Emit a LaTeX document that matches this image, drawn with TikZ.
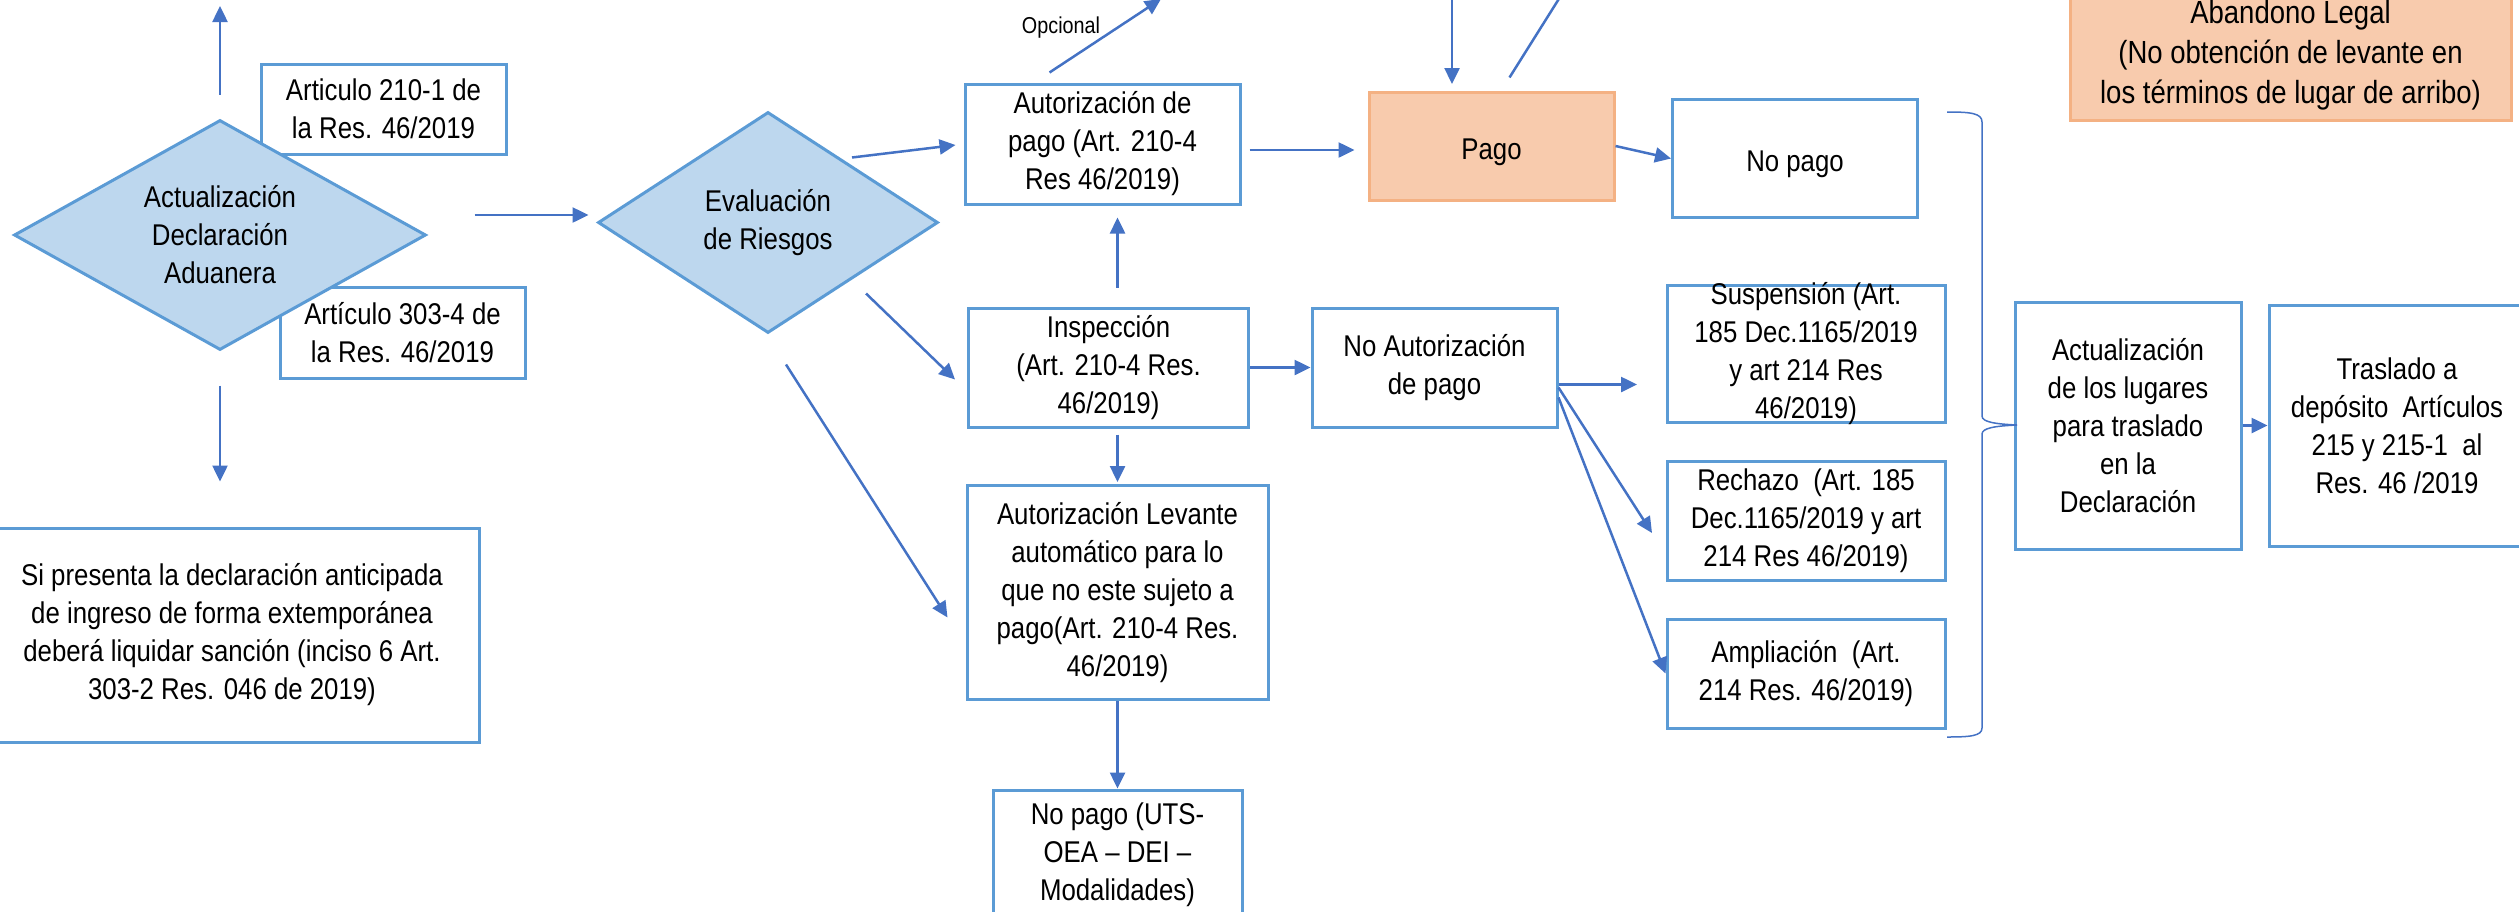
\documentclass[tikz,border=0pt]{standalone}
\usepackage{fontspec}
\setmainfont{Liberation Sans}[FakeStretch=0.86]
\usetikzlibrary{shapes.geometric,arrows.meta}
\definecolor{azul}{RGB}{91,155,213}
\definecolor{celeste}{RGB}{189,215,238}
\definecolor{flechaazul}{RGB}{68,114,196}
\definecolor{salmon}{RGB}{248,203,173}
\definecolor{salmonborde}{RGB}{244,177,131}

\begin{document}
\begin{tikzpicture}[x=1pt,y=-1pt,font=\fontsize{30}{38}\selectfont]
 \tikzstyle{caja}=[rectangle,draw=azul,line width=3pt,fill=white,align=center,inner sep=0pt,text=black,execute at begin node={\rule{0pt}{33pt}}]
 \tikzstyle{rombo}=[diamond,draw=azul,fill=celeste,line width=3pt,align=center,inner sep=0pt]
 \tikzstyle{pagar}=[caja,draw=salmonborde,fill=salmon]
 \tikzstyle{flecha}=[-{Triangle[length=16pt,width=15pt]},line width=2.5pt,draw=flechaazul]
 \tikzstyle{llave}=[draw=flechaazul,line width=1.5pt]
 \useasboundingbox (0,0) rectangle (2519,911);
 \node[caja,minimum width=245pt,minimum height=90pt] (A1) at (383.5,109) {Articulo 210-1 de\\la Res. 46/2019};
 \node[caja,minimum width=245pt,minimum height=91pt] (A2) at (402.5,332.5) {Artículo 303-4 de\\la Res. 46/2019};
 \node[rombo,aspect=1.8,minimum width=412pt,minimum height=230pt] (AD) at (220,235) {Actualización\\Declaración\\Aduanera};
 \node[caja,minimum width=494pt,minimum height=214pt] (SP) at (232,635) {Si presenta la declaración anticipada\\de ingreso de forma extemporánea\\deberá liquidar sanción (inciso 6 Art.\\303-2 Res. 046 de 2019)};
 \node[rombo,aspect=1.54,minimum width=340pt,minimum height=221pt] (ER) at (768,222.5) {Evaluación\\de Riesgos};
 \node[caja,minimum width=275pt,minimum height=120pt] (AP) at (1102.5,144) {Autorización de\\pago (Art. 210-4\\Res 46/2019)};
 \node[pagar,minimum width=245pt,minimum height=108pt] (PG) at (1491.5,146) {Pago};
 \node[caja,minimum width=245pt,minimum height=118pt] (NP) at (1795,158.5) {No pago};
 \node[caja,minimum width=280pt,minimum height=119pt] (IN) at (1108.5,367.5) {Inspección\\(Art. 210-4 Res.\\46/2019)};
 \node[caja,minimum width=301pt,minimum height=214pt] (AL) at (1117.5,592.5) {Autorización Levante\\automático para lo\\que no este sujeto a\\pago(Art. 210-4 Res.\\46/2019)};
 \node[caja,minimum width=249pt,minimum height=130pt] (NU) at (1117.5,855) {No pago (UTS-\\OEA – DEI –\\Modalidades)};
 \node[caja,minimum width=245pt,minimum height=119pt] (NA) at (1434.5,367.5) {No Autorización\\de pago};
 \node[caja,inner ysep=-10pt,minimum width=278pt,minimum height=137pt] (SU) at (1806,353.5) {Suspensión (Art.\\185 Dec.1165/2019\\y art 214 Res\\46/2019)};
 \node[caja,minimum width=278pt,minimum height=119pt] (RE) at (1806,520.5) {Rechazo~ (Art. 185\\Dec.1165/2019 y art\\214 Res 46/2019)};
 \node[caja,minimum width=278pt,minimum height=109pt] (AM) at (1806,673.5) {Ampliación~ (Art.\\214 Res. 46/2019)};
 \node[caja,minimum width=226pt,minimum height=247pt] (AC) at (2128,425.5) {Actualización\\de los lugares\\para traslado\\en la\\Declaración};
 \node[caja,minimum width=256pt,minimum height=241pt] (TR) at (2397,425.5) {Traslado a\\depósito~ Artículos\\215 y 215-1~ al\\Res. 46 /2019};
 \node[pagar,minimum width=441pt,minimum height=130pt,font=\fontsize{32}{40}\selectfont] (AB) at (2290.5,55) {Abandono Legal\\(No obtención de levante en\\los términos de lugar de arribo)};
 \node[font=\fontsize{23}{28}\selectfont] (OP) at (1061,28) {Opcional};
 \coordinate (T1) at (220,6);
 \coordinate (T2) at (1161,-1);
 \coordinate (T3) at (1452,0);
 \coordinate (T4) at (1572,-22);
 \draw[flecha,shorten <=24pt] (AD.north) -- (T1);
 \draw[flecha] ([xshift=47pt,yshift=20pt]AD.east) -- ([xshift=-8pt,yshift=7.5pt]ER.west);
 \draw[flecha,shorten <=34pt,shorten >=45pt] (AD.south) -- (AD.south |- SP.north);
 \draw[flecha] ([shift={(84,-65)}]ER.center) -- ([xshift=-8pt,yshift=-1pt]AP.west);
 \draw[flecha] ([shift={(-53,-10)}]AP.north) -- (T2);
 \draw[flecha,shorten <=8pt,shorten >=13pt] ([yshift=-6pt]AP.east) -- ([yshift=-4pt]PG.west);
 \draw[flecha,shorten >=6.5pt] (T3) -- (T3 |- PG.north);
 \draw[flecha] ([xshift=18pt,yshift=13pt]PG.north) -- (T4);
 \draw[flecha] (PG.east) -- (NP.west);
 \draw[flecha,shorten <=19pt,shorten >=12pt] (IN.north -| AL.north) -- (AP.south -| AL.north);
 \draw[flecha] ([shift={(98,71)}]ER.center) -- ([xshift=-12pt,yshift=-12pt]IN.west);
 \draw[flecha] ([xshift=18pt,yshift=-30pt]ER.south) -- ([xshift=-18pt,yshift=-25pt]AL.west);
 \draw[flecha,shorten <=6pt,shorten >=2pt] (IN.south -| AL.north) -- (AL.north);
 \draw[flecha] (AL.south) -- (NU.north);
 \draw[flecha] (IN.east) -- (NA.west);
 \draw[flecha] ([yshift=-17pt]NA.east) -- ([xshift=-28.5pt,yshift=-31pt]SU.west);
 \draw[flecha] ([yshift=-20pt]NA.east) -- ([xshift=-13.5pt,yshift=-12.5pt]RE.west);
 \draw[flecha] ([yshift=-30pt]NA.east) -- (AM.west);
 \draw[flecha] (AC.east) -- (TR.west);
 \draw[llave] (1947,112) .. controls (1970,112) and (1982,113) .. (1982,122) -- (1982,416) .. controls (1982,422) and (1995,424) .. (2017,425) .. controls (1995,426) and (1982,428) .. (1982,434) -- (1982,728) .. controls (1982,736) and (1970,737) .. (1947,737);
\end{tikzpicture}
\end{document}
